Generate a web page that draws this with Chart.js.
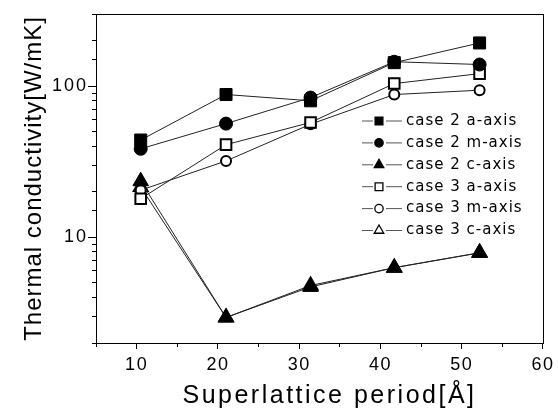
<!DOCTYPE html>
<html>
<head>
<meta charset="utf-8">
<script src="https://cdn.jsdelivr.net/npm/chart.js@4.4.0/dist/chart.umd.min.js"></script>
<style>
  html, body { margin: 0; padding: 0; background: #fff; }
</style>
</head>
<body>
<canvas id="chart" width="558" height="414"></canvas>
<script>
// Superlattice period [Å]
const periods = [10.5, 21.0, 31.4, 41.7, 52.2];
// Thermal conductivity [W/mK]
const case2A = [44, 88, 80, 143, 193];
const case2M = [38.5, 56.5, 84, 145, 139];
const case2C = [23.5, 2.95, 4.7, 6.3, 7.9];
const case3A = [18, 41, 57.5, 104, 121];
const case3M = [20.5, 32, 56, 88, 94];
const case3C = [21.5, 2.95, 4.8, 6.3, 7.9];
const seriesLabels = ["case 2 a-axis", "case 2 m-axis", "case 2 c-axis",
                      "case 3 a-axis", "case 3 m-axis", "case 3 c-axis"];
// labelled ticks
const xTicks = [10, 20, 30, 40, 50, 60];
const yTicks = [10, 100];

function pts(values) {
  return periods.map((p, i) => ({ x: p, y: values[i] }));
}

// marker look for each series (filled = case 2, open = case 3)
function series(label, values, style, filled, radius) {
  return {
    label: label,
    data: pts(values),
    borderColor: "#222",
    borderWidth: 1,
    tension: 0,
    pointStyle: style,
    pointRadius: radius,
    pointHoverRadius: radius,
    pointBackgroundColor: filled ? "#000" : "#fff",
    pointBorderColor: "#000",
    pointBorderWidth: filled ? 1 : 2,
  };
}

// wider letter spacing on a scale's title and tick labels
function spaced(titleSpacing, tickSpacing, shiftX) {
  return function (scale) {
    if (scale._spaced) return;
    scale._spaced = true;
    const drawTitle = scale.drawTitle;
    const drawLabels = scale.drawLabels;
    scale.drawTitle = function () {
      this.ctx.save();
      this.ctx.letterSpacing = titleSpacing;
      this.ctx.translate(shiftX, 0);
      drawTitle.call(this);
      this.ctx.restore();
    };
    scale.drawLabels = function (area) {
      this.ctx.save();
      this.ctx.letterSpacing = tickSpacing;
      drawLabels.call(this, area);
      this.ctx.restore();
    };
  };
}

// box round the plot
const frame = {
  id: "frame",
  beforeDatasetsDraw(chart) {
    const { ctx, chartArea: a } = chart;
    ctx.save();
    ctx.strokeStyle = "#000";
    ctx.lineWidth = 1;
    ctx.strokeRect(a.left + 0.5, a.top + 0.5, a.right - a.left, a.bottom - a.top);
    ctx.restore();
  },
};

// legend inside the plot, right side
const legendBox = {
  id: "legendBox",
  afterDraw(chart) {
    const ctx = chart.ctx;
    const a = chart.chartArea;
    const sizes = { rect: 5.5, circle: 4.2, triangle: 5.5 };
    ctx.save();
    ctx.font = "15px 'DejaVu Sans'";
    ctx.letterSpacing = "1px";
    ctx.textBaseline = "middle";
    chart.data.datasets.forEach((ds, i) => {
      const y = a.top + 107 + i * 21.9;
      const x0 = a.left + 266;
      ctx.strokeStyle = "#555";
      ctx.lineWidth = 1;
      ctx.beginPath();
      ctx.moveTo(x0, y); ctx.lineTo(x0 + 11, y);
      ctx.moveTo(x0 + 24, y); ctx.lineTo(x0 + 40, y);
      ctx.stroke();
      ctx.fillStyle = ds.pointBackgroundColor;
      ctx.strokeStyle = "#000";
      ctx.lineWidth = 1.3;
      Chart.helpers.drawPoint(ctx, {
        pointStyle: ds.pointStyle,
        radius: sizes[ds.pointStyle],
        rotation: 0,
        borderWidth: 1.3,
      }, x0 + 17, y);
      ctx.fillStyle = "#000";
      ctx.fillText(ds.label, a.left + 310, y);
    });
    ctx.restore();
  },
};

new Chart("chart", {
  type: "line",
  data: {
    datasets: [
      series(seriesLabels[0], case2A, "rect", true, 8.5),
      series(seriesLabels[1], case2M, "circle", true, 6.5),
      series(seriesLabels[2], case2C, "triangle", true, 9),
      series(seriesLabels[3], case3A, "rect", false, 7.5),
      series(seriesLabels[4], case3M, "circle", false, 5),
      series(seriesLabels[5], case3C, "triangle", false, 8),
    ],
  },
  options: {
    responsive: false,
    animation: false,
    devicePixelRatio: 1,
    layout: { padding: { top: 14, right: 14, left: 0, bottom: 0 } },
    plugins: {
      legend: { display: false },
      tooltip: { enabled: false },
    },
    scales: {
      x: {
        type: "linear",
        min: 5,
        max: 60,
        afterFit(s) { s.height = 71; },
        afterUpdate: spaced("2.5px", "1.5px", 10),
        ticks: {
          stepSize: 5,
          autoSkip: false,
          maxRotation: 0,
          padding: 5,
          color: "#000",
          font: { family: "Liberation Sans", size: 18 },
          callback: (v) => (xTicks.includes(v) ? String(v) : ""),
        },
        grid: {
          drawOnChartArea: false,
          tickLength: 6,
          color: "#000",
          tickColor: "#000",
          tickBorderDash: (c) => (c.tick && xTicks.includes(c.tick.value) ? [] : [3, 50]),
        },
        border: { display: true, color: "#000", width: 1 },
        title: {
          display: true,
          text: "Superlattice period[Å]",
          color: "#000",
          font: { family: "Liberation Sans", size: 25 },
          padding: { top: 0, bottom: 3 },
        },
      },
      y: {
        type: "logarithmic",
        min: 2,
        max: 300,
        afterFit(s) { s.width = 96; },
        afterUpdate: spaced("1px", "2px", 0),
        ticks: {
          autoSkip: false,
          padding: 0,
          color: "#000",
          font: { family: "Liberation Sans", size: 18 },
          callback: (v) => (yTicks.includes(v) ? String(v) : ""),
        },
        grid: {
          drawOnChartArea: false,
          tickLength: 8,
          color: "#000",
          tickColor: "#000",
          tickBorderDash: (c) => (c.tick && yTicks.includes(c.tick.value) ? [] : [0, 4, 4, 50]),
        },
        border: { display: true, color: "#000", width: 1 },
        title: {
          display: true,
          text: "Thermal conductivity[W/mK]",
          color: "#000",
          font: { family: "Liberation Sans", size: 24 },
          padding: { top: 20, bottom: 0 },
        },
      },
    },
  },
  plugins: [frame, legendBox],
});
</script>
</body>
</html>
